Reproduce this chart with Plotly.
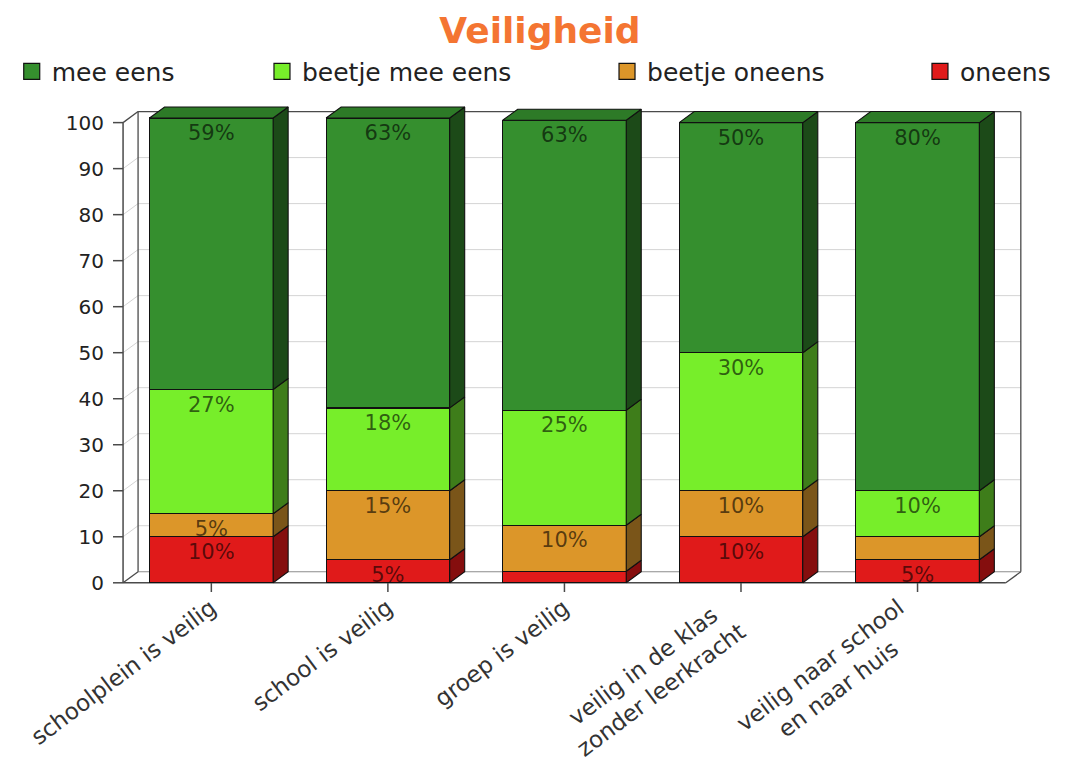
import plotly.graph_objects as go

# ---------------- data ----------------
categories = ["schoolplein is veilig", "school is veilig", "groep is veilig",
              "veilig in de klas<br>zonder leerkracht", "veilig naar school<br>en naar huis"]
series_names = ["oneens", "beetje oneens", "beetje mee eens", "mee eens"]   # bottom -> top
oneens = [10, 5, 2.5, 10, 5]
beetje_oneens = [5, 15, 10, 10, 5]
beetje_mee_eens = [27, 18, 25, 30, 10]
mee_eens = [59, 63, 63, 50, 80]
oneens_labels = ["10%", "5%", "", "10%", "5%"]
beetje_oneens_labels = ["5%", "15%", "10%", "10%", ""]
beetje_mee_eens_labels = ["27%", "18%", "25%", "30%", "10%"]
mee_eens_labels = ["59%", "63%", "63%", "50%", "80%"]
y_ticks = [0, 10, 20, 30, 40, 50, 60, 70, 80, 90, 100]

# ---------------- style ----------------
front_colors = ["#E01A1A", "#DC9629", "#77EE2A", "#358F2E"]
side_colors = ["#850E0E", "#7A5519", "#3E7D1A", "#1C4A18"]
top_color = "#2D7A27"
title_color = "#F47532"
FONT = "DejaVu Sans"
W = 0.7      # bar width (category units)
DX = 0.085   # 3D depth offset in x (category units)
DY = 2.4     # 3D depth offset in y (value units)
XMIN, XMAX = -0.557, 4.62
YMIN, YMAX = -2, 106

values = [oneens, beetje_oneens, beetje_mee_eens, mee_eens]
labels = [oneens_labels, beetje_oneens_labels, beetje_mee_eens_labels, mee_eens_labels]
xs = list(range(len(categories)))

fig = go.Figure()

# front faces
for name, vals, labs, col in zip(series_names, values, labels, front_colors):
    fig.add_trace(go.Bar(
        x=xs, y=vals, name=name, width=W, text=labs,
        textposition="inside", insidetextanchor="end", constraintext="none",
        textfont=dict(family=FONT, size=21, color="rgba(0,0,0,0.62)"),
        marker=dict(color=col, line=dict(color="#111111", width=1.2)),
        showlegend=False, hoverinfo="skip",
    ))

# side faces (3D depth), computed from the stacked data
base = [0.0] * len(xs)
for vals, scol in zip(values, side_colors):
    px, py = [], []
    for i, v in enumerate(vals):
        b, t = base[i], base[i] + v
        r = i + W / 2
        px += [r, r + DX, r + DX, r, r, None]
        py += [b, b + DY, t + DY, t, b, None]
        base[i] = t
    fig.add_trace(go.Scatter(x=px, y=py, mode="lines", fill="toself", fillcolor=scol,
                             line=dict(color="#111111", width=1.1),
                             showlegend=False, hoverinfo="skip"))

# top faces
px, py = [], []
for i, T in enumerate(base):
    l, r = i - W / 2, i + W / 2
    px += [l, l + DX, r + DX, r, l, None]
    py += [T, T + DY, T + DY, T, T, None]
fig.add_trace(go.Scatter(x=px, y=py, mode="lines", fill="toself", fillcolor=top_color,
                         line=dict(color="#111111", width=1.1),
                         showlegend=False, hoverinfo="skip"))

# legend entries (top row, order as in reference)
legend_order = ["mee eens", "beetje mee eens", "beetje oneens", "oneens"]
legend_x = [-0.1108, 0.1630, 0.5405, 0.8829]
legend_ids = ["legend", "legend2", "legend3", "legend4"]
for nm, lid in zip(legend_order, legend_ids):
    col = front_colors[series_names.index(nm)]
    fig.add_trace(go.Scatter(x=[None], y=[None], mode="markers", name=nm, legend=lid,
                             marker=dict(symbol="square", size=16, color=col,
                                         line=dict(color="#111111", width=1.2)),
                             showlegend=True, hoverinfo="skip"))

# ---------------- 3D frame (walls, grid, ticks) ----------------
shapes = []
def seg(x0, y0, x1, y1, color, width):
    shapes.append(dict(type="line", xref="x", yref="y", x0=x0, y0=y0, x1=x1, y1=y1,
                       line=dict(color=color, width=width), layer="below"))

L, R = -0.5, len(xs) - 0.5
for v in y_ticks[1:-1]:
    seg(L + DX, v + DY, R + DX, v + DY, "#D4D4D4", 1)
    seg(L, v, L + DX, v + DY, "#D4D4D4", 1)
seg(L + DX, DY, R + DX, DY, "#8C8C8C", 1.2)          # floor back edge
frame = "#4A4A4A"
seg(L, 0, L, 100, frame, 1.5)                        # y axis line
seg(L + DX, DY, L + DX, 100 + DY, frame, 1.3)        # back-left edge
seg(L + DX, 100 + DY, R + DX, 100 + DY, frame, 1.3)  # top edge
seg(R + DX, DY, R + DX, 100 + DY, frame, 1.3)        # right edge
seg(L, 0, R, 0, frame, 1.5)                          # floor front edge
seg(L, 0, L + DX, DY, frame, 1.3)
seg(L, 100, L + DX, 100 + DY, frame, 1.3)
seg(R, 0, R + DX, DY, frame, 1.3)
for v in y_ticks:
    seg(XMIN, v, L, v, frame, 1.5)
for i in xs:
    seg(i, 0, i, YMIN, frame, 1.5)

# category labels (rotated, multi-line centred)
annotations = []
for i, cat in zip(xs, categories):
    annotations.append(dict(x=i, y=YMIN, xref="x", yref="y", text=cat, showarrow=False,
                            textangle=-37, xanchor="right", yanchor="top", align="center",
                            xshift=12, yshift=1,
                            font=dict(family=FONT, size=23, color="#333333")))

legends = {}
for lid, lx in zip(legend_ids, legend_x):
    legends[lid] = dict(x=lx, y=1.047, xanchor="left", yanchor="middle",
                        orientation="h", bgcolor="rgba(0,0,0,0)",
                        font=dict(family=FONT, size=25, color="#222222"))

# the page body adds an 8px offset, so the figure is 8px smaller on each axis
fig.update_layout(
    width=1057, height=756,
    margin=dict(l=105, r=38, t=87, b=172, autoexpand=False),
    paper_bgcolor="white", plot_bgcolor="white",
    barmode="stack", bargap=0.3,
    title=dict(text="<b>Veiligheid</b>", x=0.5033, xref="container", xanchor="center",
               y=0.9709, yref="container", yanchor="middle",
               font=dict(family=FONT, size=36, color=title_color)),
    xaxis=dict(range=[XMIN, XMAX], tickvals=xs, showticklabels=False,
               ticks="", showgrid=False, zeroline=False, showline=False, automargin=False,
               fixedrange=True),
    yaxis=dict(range=[YMIN, YMAX], tickvals=y_ticks, ticks="", showgrid=False,
               zeroline=False, showline=False, ticklabelstandoff=8, automargin=False,
               tickfont=dict(family=FONT, size=20, color="#222222"), fixedrange=True),
    shapes=shapes,
    annotations=annotations,
    **legends,
)

fig.write_html("out.html")
